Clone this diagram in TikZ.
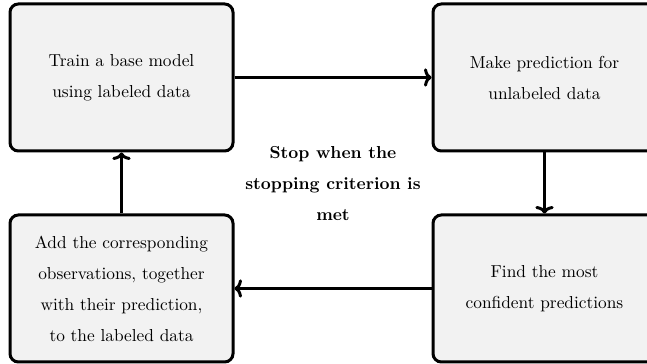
\documentclass[tikz,border=0pt]{standalone}
\usetikzlibrary{positioning,arrows.meta}
\definecolor{boxfill}{HTML}{F2F2F2}
\begin{document}
\begin{tikzpicture}[node distance={120pt}, line width=1.8pt, >={To[length=4.5pt,width=11pt]}, main/.style = {draw, rounded corners=5pt, fill=boxfill, minimum width=133.8pt, minimum height=88.2pt, inner sep=0pt, align=center, font=\linespread{1.55}\fontsize{10.4}{12}\selectfont}]
            \useasboundingbox (0,0) rectangle (388.2pt,-218.4pt);
            \node[main] (train) at (72.9pt,-46.5pt) {Train a base model\\using labeled data};
            \node[main] (predict) [right=118.2pt of train] {Make prediction for\\unlabeled data};
            \node[main] (confident) [below=36.6pt of predict] {Find the most\\confident predictions};
            \node[main] (add) [below=36.6pt of train] {Add the corresponding\\observations, together\\with their prediction,\\to the labeled data};
            \node[align=center, font=\bfseries\linespread{1.55}\fontsize{10.4}{12}\selectfont] (stop) at (199.8pt,-110.4pt) {Stop when the\\stopping criterion is\\met};
            \draw[->] (train) -- (predict);
            \draw[->] (predict) -- (confident);
            \draw[->] (confident) -- (add);
            \draw[->] (add) -- (train);
        \end{tikzpicture}
\end{document}
